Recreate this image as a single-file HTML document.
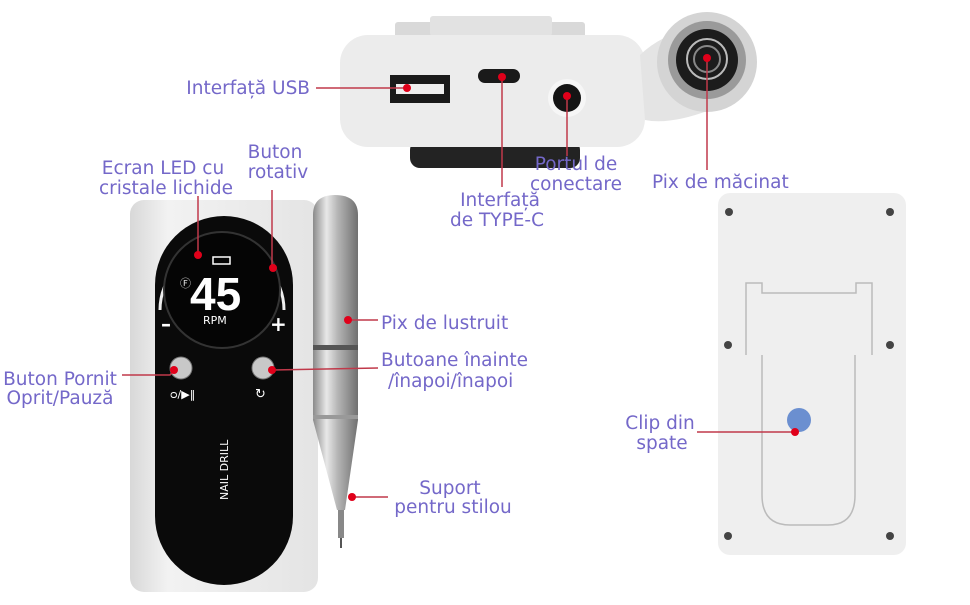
<!DOCTYPE html>
<html><head><meta charset="utf-8"><style>
body{margin:0;background:#fff;width:970px;height:600px;overflow:hidden}
text{font-family:"DejaVu Sans","Liberation Sans",sans-serif;font-size:18.5px;fill:#7468c9}
</style></head><body>
<svg width="970" height="600" viewBox="0 0 970 600">
<defs>
<linearGradient id="pen" x1="0" x2="1"><stop offset="0" stop-color="#8a8a8a"/><stop offset=".3" stop-color="#e8e8e8"/><stop offset=".55" stop-color="#b5b5b5"/><stop offset="1" stop-color="#707070"/></linearGradient>
<linearGradient id="body" x1="0" x2="1"><stop offset="0" stop-color="#d8d8d8"/><stop offset=".2" stop-color="#f2f2f2"/><stop offset="1" stop-color="#e4e4e4"/></linearGradient>
</defs>
<rect x="395" y="22" width="190" height="22" rx="3" fill="#d9d9d9"/>
<rect x="430" y="16" width="122" height="20" rx="3" fill="#e2e2e2"/>
<rect x="410" y="140" width="170" height="28" rx="10" fill="#232323"/>
<rect x="340" y="35" width="305" height="112" rx="28" fill="#ececec"/>
<path d="M640 55 Q660 35 700 25 L710 110 Q670 125 645 120 Z" fill="#e4e4e4"/>
<circle cx="707" cy="62" r="50" fill="#d4d4d4"/>
<circle cx="707" cy="60" r="39" fill="#9a9a9a"/>
<circle cx="707" cy="60" r="31" fill="#1c1c1c"/>
<circle cx="707" cy="59" r="20" fill="none" stroke="#bbb" stroke-width="2"/>
<circle cx="707" cy="59" r="13" fill="none" stroke="#888" stroke-width="2"/>
<rect x="390" y="75" width="60" height="28" fill="#1a1a1a"/>
<rect x="396" y="84" width="48" height="10" fill="#eee"/>
<rect x="478" y="69" width="42" height="14" rx="7" fill="#1a1a1a"/>
<circle cx="567" cy="98" r="19" fill="#f6f6f6"/>
<circle cx="567" cy="98" r="14" fill="#141414"/>
<rect x="130" y="200" width="188" height="392" rx="14" fill="url(#body)"/>
<path d="M155 285 A69 69 0 0 1 293 285 L293 516 A60 60 0 0 1 155 516 Z" fill="#0a0a0a"/>
<path d="M160 310 A62 62 0 1 1 284 310" fill="none" stroke="#eee" stroke-width="3"/>
<circle cx="222" cy="290" r="58" fill="#050505" stroke="#333" stroke-width="2"/>
<text x="190" y="310" style="font-size:46px;fill:#fff;font-weight:bold;font-family:'Liberation Sans',sans-serif">45</text>
<text x="203" y="324" style="font-size:11px;fill:#fff">RPM</text>
<text x="180" y="287" style="font-size:11px;fill:#ddd">Ⓕ</text>
<rect x="213" y="257" width="17" height="7" fill="none" stroke="#fff" stroke-width="1.5"/>
<text x="161" y="331" style="font-size:20px;fill:#fff;font-weight:bold">–</text>
<text x="270" y="331" style="font-size:20px;fill:#fff;font-weight:bold">+</text>
<circle cx="181" cy="368" r="11" fill="#c8c8c8" stroke="#777"/>
<circle cx="263" cy="368" r="11" fill="#c8c8c8" stroke="#777"/>
<text x="170" y="398" style="font-size:11px;fill:#fff">ᴑ/▶‖</text>
<text x="255" y="398" style="font-size:13px;fill:#fff">↻</text>
<text transform="translate(228,500) rotate(-90)" style="font-size:11px;fill:#fff">NAIL DRILL</text>
<path d="M313 215 Q313 195 335 195 Q358 195 358 215 L358 420 L345 510 L337 510 L313 420 Z" fill="url(#pen)"/>
<rect x="313" y="345" width="45" height="5" fill="#555"/>
<rect x="313" y="415" width="45" height="4" fill="#999"/>
<rect x="338" y="510" width="6" height="28" fill="#888"/>
<rect x="340" y="538" width="2" height="10" fill="#555"/>
<rect x="718" y="193" width="188" height="362" rx="12" fill="#efefef"/>
<path d="M746 355 L746 283 L762 283 L762 293 L856 293 L856 283 L872 283 L872 355" fill="none" stroke="#bbb" stroke-width="1.5"/>
<path d="M762 355 L762 495 Q762 525 790 525 L828 525 Q855 525 855 495 L855 355" fill="none" stroke="#bbb" stroke-width="1.5"/>
<g fill="#444"><circle cx="729" cy="212" r="4"/><circle cx="890" cy="212" r="4"/><circle cx="728" cy="345" r="4"/><circle cx="890" cy="345" r="4"/><circle cx="728" cy="536" r="4"/><circle cx="890" cy="536" r="4"/></g>
<circle cx="799" cy="420" r="12" fill="#6b8fd0"/>
<g stroke="#c0394a" stroke-width="1.5" fill="none">
<path d="M316 88 H407"/><path d="M502 77 V187"/><path d="M567 96 V156"/><path d="M707 58 V170"/>
<path d="M198 196 V255"/><path d="M272 190 V268"/><path d="M348 320 H378"/>
<path d="M122 375 L170 375 L174 370"/><path d="M272 370 L378 368"/><path d="M352 497 H388"/><path d="M697 432 H795"/>
</g>
<g fill="#e0001a"><circle cx="407" cy="88" r="4"/><circle cx="502" cy="77" r="4"/><circle cx="567" cy="96" r="4"/><circle cx="707" cy="58" r="4"/>
<circle cx="198" cy="255" r="4"/><circle cx="273" cy="268" r="4"/><circle cx="348" cy="320" r="4"/><circle cx="174" cy="370" r="4"/><circle cx="272" cy="370" r="4"/><circle cx="352" cy="497" r="4"/><circle cx="795" cy="432" r="4"/></g>
<text x="310" y="94" text-anchor="end">Interfață USB</text>
<text x="500" y="206" text-anchor="middle">Interfață</text>
<text x="497" y="226" text-anchor="middle">de TYPE-C</text>
<text x="576" y="170" text-anchor="middle">Portul de</text>
<text x="576" y="190" text-anchor="middle">conectare</text>
<text x="652" y="188">Pix de măcinat</text>
<text x="163" y="174" text-anchor="middle">Ecran LED cu</text>
<text x="166" y="194" text-anchor="middle">cristale lichide</text>
<text x="275" y="158" text-anchor="middle">Buton</text>
<text x="278" y="178" text-anchor="middle">rotativ</text>
<text x="381" y="329">Pix de lustruit</text>
<text x="381" y="366">Butoane înainte</text>
<text x="388" y="387">/înapoi/înapoi</text>
<text x="60" y="385" text-anchor="middle">Buton Pornit</text>
<text x="60" y="404" text-anchor="middle">Oprit/Pauză</text>
<text x="450" y="494" text-anchor="middle">Suport</text>
<text x="453" y="513" text-anchor="middle">pentru stilou</text>
<text x="660" y="429" text-anchor="middle">Clip din</text>
<text x="662" y="449" text-anchor="middle">spate</text>
</svg>
</body></html>
